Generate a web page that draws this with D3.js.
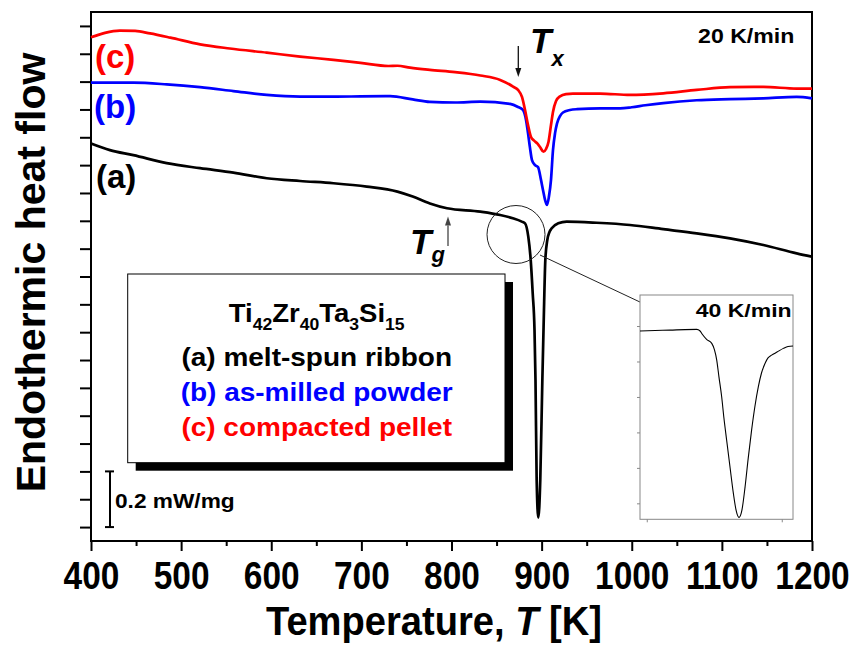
<!DOCTYPE html>
<html>
<head>
<meta charset="utf-8">
<script src="https://cdn.jsdelivr.net/npm/d3@7"></script>
<style>
  body { margin: 0; background: #fff; }
  svg { display: block; font-family: Arial, "Liberation Sans", sans-serif; font-weight: bold; }
</style>
</head>
<body>
<svg id="chart" width="855" height="645"></svg>
<script>
// DSC traces, [temperature K, heat flow mW/mg (offset)], heating at 20 K/min
const ribbon = [
  [400,1.378],[421,1.354],[447,1.336],[484,1.307],[521,1.289],[558,1.273],[595,1.253],
  [632,1.243],[669,1.235],[706,1.223],[740,1.205],[757,1.187],[776,1.162],[795,1.145],
  [832,1.133],[854,1.121],[868,1.109],[878,1.097],[881.6,1.091],[885.2,1.043],[887.9,0.959],
  [890.1,0.840],[892.1,0.708],[893.2,0.528],[894.5,0.169],[896.3,0.034],[898.5,0.169],
  [900.8,0.528],[902.6,0.780],[904.1,0.959],[906.3,1.031],[908.7,1.060],[911.2,1.073],
  [918.5,1.091],[927.8,1.097],[961,1.093],[998,1.085],[1035,1.070],[1072,1.055],
  [1109,1.037],[1146,1.013],[1183,0.983],[1200,0.971]
];
const powder = [
  [400,1.596],[447,1.596],[484,1.590],[521,1.580],[558,1.566],[595,1.552],[632,1.546],
  [669,1.546],[699,1.547],[732,1.548],[757,1.536],[776,1.527],[804,1.525],[832,1.528],
  [865,1.520],[873.8,1.509],[879.3,1.498],[882.7,1.462],[884.9,1.415],[887.1,1.362],
  [889.3,1.318],[892.7,1.300],[896,1.293],[899.3,1.247],[901.5,1.211],[903.8,1.175],
  [906,1.157],[908.2,1.189],[910.4,1.247],[912.6,1.354],[914.9,1.415],[917.1,1.450],
  [920.4,1.476],[923.7,1.489],[931.5,1.498],[939.3,1.501],[965,1.504],[987,1.504],
  [1000,1.508],[1015,1.515],[1035,1.523],[1072,1.533],[1109,1.537],[1146,1.540],
  [1183,1.545],[1200,1.540]
];
const pellet = [
  [400,1.759],[415.5,1.775],[432,1.783],[449,1.782],[465.5,1.773],[488,1.758],[521,1.734],
  [554,1.719],[595,1.704],[632,1.690],[669,1.678],[699,1.667],[730,1.656],[740,1.657],
  [754,1.650],[776,1.642],[804,1.634],[832,1.622],[854,1.606],[868.3,1.582],[873.8,1.570],
  [878.2,1.545],[881.6,1.498],[884.9,1.444],[888.2,1.401],[891.6,1.388],[894.9,1.379],
  [898.2,1.365],[902.1,1.348],[904.9,1.358],[907.6,1.383],[910.4,1.444],[912.6,1.491],
  [916,1.530],[920.4,1.547],[927.1,1.555],[934.8,1.557],[965,1.557],[998,1.552],
  [1035,1.558],[1072,1.570],[1109,1.580],[1146,1.581],[1183,1.575],[1200,1.575]
];
// ribbon crystallization peak recorded at 40 K/min
const ribbon40 = [
  [877,-0.028],[883.7,-0.025],[890.3,-0.023],[897,-0.020],[902.2,-0.019],[903.7,-0.028],
  [904.6,-0.045],[906.6,-0.075],[908.9,-0.098],[910.1,-0.135],[911.1,-0.192],[912.1,-0.288],
  [913.3,-0.399],[914.3,-0.519],[915.5,-0.643],[917,-0.795],[918.5,-0.944],[919.7,-1.038],
  [921,-1.079],[922.3,-1.038],[923.7,-0.907],[925.1,-0.745],[926.6,-0.587],[928.1,-0.451],
  [929.6,-0.342],[931,-0.265],[932.6,-0.210],[933.9,-0.180],[935.5,-0.164],[937.9,-0.147],
  [940.7,-0.126],[942.8,-0.115],[945,-0.113]
];

const xMajorTicks = [400, 500, 600, 700, 800, 900, 1000, 1100, 1200];
const xMinorTicks = [450, 550, 650, 750, 850, 950, 1050, 1150];
const yTicks = d3.range(0, 1.801, 0.1);
const insetXTicks = [880, 940];
const insetYTicks = [0, -0.2, -0.4, -0.6, -0.8, -1.0];

const seriesLabels = ["(a)", "(b)", "(c)"];
const legendTitle = [["Ti", "42"], ["Zr", "40"], ["Ta", "3"], ["Si", "15"]];
const legendLines = ["(a) melt-spun ribbon", "(b) as-milled powder", "(c) compacted pellet"];
const colors = ["#000000", "#0000ff", "#ff0000"];

const svg = d3.select("#chart");
svg.append("rect").attr("width", 855).attr("height", 645).attr("fill", "#fff");

const plot = { left: 91, right: 812, top: 12, bottom: 541 };
const x = d3.scaleLinear().domain([400, 1200]).range([plot.left, plot.right]);
const y = d3.scaleLinear().domain([-0.05, 1.85]).range([plot.bottom, plot.top]);

// axes
const xAxis = svg.append("g").attr("transform", `translate(0,${plot.bottom})`)
  .call(d3.axisBottom(x).tickValues(xMajorTicks).tickSize(10).tickSizeOuter(0).tickFormat(d3.format("d")));
xAxis.select(".domain").remove();
xAxis.selectAll(".tick line").attr("stroke", "#000").attr("stroke-width", 2);
xAxis.selectAll(".tick text")
  .attr("y", 48).attr("dy", 0)
  .attr("font-size", 38).attr("font-family", "Arial, 'Liberation Sans', sans-serif")
  .attr("font-weight", "bold").attr("fill", "#000")
  .attr("transform", "scale(0.88,1)");

const xMinor = svg.append("g").attr("transform", `translate(0,${plot.bottom})`)
  .call(d3.axisBottom(x).tickValues(xMinorTicks).tickSize(5).tickSizeOuter(0).tickFormat(""));
xMinor.select(".domain").remove();
xMinor.selectAll(".tick line").attr("stroke", "#000").attr("stroke-width", 2);

const yAxis = svg.append("g").attr("transform", `translate(${plot.left},0)`)
  .call(d3.axisLeft(y).tickValues(yTicks).tickSize(11).tickSizeOuter(0).tickFormat(""));
yAxis.select(".domain").remove();
yAxis.selectAll(".tick line").attr("stroke", "#000").attr("stroke-width", 2);

// frame
svg.append("rect")
  .attr("x", plot.left).attr("y", plot.top)
  .attr("width", plot.right - plot.left).attr("height", plot.bottom - plot.top)
  .attr("fill", "none").attr("stroke", "#000").attr("stroke-width", 2);

// curves
const line = d3.line().x(d => x(d[0])).y(d => y(d[1])).curve(d3.curveMonotoneX);
[ribbon, powder, pellet].forEach((s, i) => {
  svg.append("path").datum(s)
    .attr("d", line).attr("fill", "none")
    .attr("stroke", colors[i]).attr("stroke-width", 2.7)
    .attr("stroke-linejoin", "round");
});

// series tags
const tagPos = [[96, 188.3], [94, 118.3], [95, 68.3]];
seriesLabels.forEach((t, i) => {
  svg.append("text").attr("x", tagPos[i][0]).attr("y", tagPos[i][1])
    .attr("font-size", 33).attr("fill", colors[i]).text(t);
});

// arrow helper
function arrow(x1, y1, x2, y2, color, width, headLen, headW) {
  const ang = Math.atan2(y2 - y1, x2 - x1);
  const bx = x2 - headLen * Math.cos(ang), by = y2 - headLen * Math.sin(ang);
  svg.append("line").attr("x1", x1).attr("y1", y1).attr("x2", bx).attr("y2", by)
    .attr("stroke", color).attr("stroke-width", width);
  const px = -Math.sin(ang) * headW / 2, py = Math.cos(ang) * headW / 2;
  svg.append("path")
    .attr("d", `M${x2},${y2}L${bx + px},${by + py}L${bx - px},${by - py}Z`)
    .attr("fill", color);
}

// Tx annotation
arrow(518.3, 46, 518.3, 77, "#111", 1.3, 9, 6);
const tx = svg.append("text").attr("x", 530).attr("y", 53.3).attr("font-size", 35).attr("font-style", "italic");
tx.append("tspan").text("T");
tx.append("tspan").attr("font-size", 22).attr("dy", 13).text("x");

// Tg annotation
arrow(448, 246, 448, 216.5, "#444", 1.3, 9, 6);
const tg = svg.append("text").attr("x", 410).attr("y", 254).attr("font-size", 35).attr("font-style", "italic");
tg.append("tspan").text("T");
tg.append("tspan").attr("font-size", 22).attr("dy", 8).text("g");

// heating rate
svg.append("text").attr("text-anchor", "end")
  .attr("transform", "translate(794.3,43.3) scale(1.1,1)")
  .attr("font-size", 21).text("20 K/min");

// zoom circle and connector
svg.append("circle").attr("cx", 516).attr("cy", 234.5).attr("r", 29)
  .attr("fill", "none").attr("stroke", "#222").attr("stroke-width", 1);
arrow(540, 255, 676.7, 319.3, "#222", 1, 11, 7);

// inset
const inset = { left: 640, right: 793, top: 295, bottom: 519.3 };
const ix = d3.scaleLinear().domain([877, 945]).range([inset.left, inset.right]);
const iy = d3.scaleLinear().domain([0.175, -1.09]).range([inset.top, inset.bottom]);
svg.append("rect")
  .attr("x", inset.left).attr("y", inset.top)
  .attr("width", inset.right - inset.left).attr("height", inset.bottom - inset.top)
  .attr("fill", "#fff").attr("stroke", "#888").attr("stroke-width", 1);
const iyAxis = svg.append("g").attr("transform", `translate(${inset.left},0)`)
  .call(d3.axisLeft(iy).tickValues(insetYTicks).tickSize(3).tickSizeOuter(0).tickFormat(""));
iyAxis.select(".domain").remove();
iyAxis.selectAll(".tick line").attr("stroke", "#888");
const ixAxis = svg.append("g").attr("transform", `translate(0,${inset.bottom})`)
  .call(d3.axisBottom(ix).tickValues(insetXTicks).tickSize(3).tickSizeOuter(0).tickFormat(""));
ixAxis.select(".domain").remove();
ixAxis.selectAll(".tick line").attr("stroke", "#888");
const iline = d3.line().x(d => ix(d[0])).y(d => iy(d[1])).curve(d3.curveMonotoneX);
svg.append("path").datum(ribbon40).attr("d", iline)
  .attr("fill", "none").attr("stroke", "#000").attr("stroke-width", 1.1);
svg.append("text").attr("text-anchor", "end")
  .attr("transform", "translate(791.7,316.7) scale(1.28,1)")
  .attr("font-size", 18).text("40 K/min");

// legend box with shadow
const lg = { x: 127.7, y: 274, w: 377.3, h: 188.7, off: 8 };
svg.append("rect").attr("x", lg.x + lg.off).attr("y", lg.y + lg.off)
  .attr("width", lg.w).attr("height", lg.h).attr("fill", "#000");
svg.append("rect").attr("x", lg.x).attr("y", lg.y)
  .attr("width", lg.w).attr("height", lg.h)
  .attr("fill", "#fff").attr("stroke", "#000").attr("stroke-width", 1);

const lcx = 316.7;
const title = svg.append("text").attr("text-anchor", "middle")
  .attr("transform", `translate(${lcx},321.7) scale(1.1,1)`).attr("font-size", 25);
legendTitle.forEach(([el, n], i) => {
  title.append("tspan").attr("dy", i === 0 ? 0 : -8).text(el);
  title.append("tspan").attr("font-size", 16).attr("dy", 8).text(n);
});
const lineBase = [366, 401, 436];
legendLines.forEach((t, i) => {
  svg.append("text").attr("text-anchor", "middle")
    .attr("transform", `translate(${lcx},${lineBase[i]}) scale(1.12,1)`)
    .attr("font-size", 25).attr("fill", colors[i]).text(t);
});

// scale bar: 0.2 mW/mg
const sbx = 110, sbTop = y(0.2), sbBot = y(0);
svg.append("line").attr("x1", sbx).attr("x2", sbx).attr("y1", sbTop).attr("y2", sbBot)
  .attr("stroke", "#000").attr("stroke-width", 2);
[sbTop, sbBot].forEach(v => svg.append("line")
  .attr("x1", sbx - 5).attr("x2", sbx + 4).attr("y1", v).attr("y2", v)
  .attr("stroke", "#000").attr("stroke-width", 2));
svg.append("text").attr("transform", "translate(115,508.3) scale(1.08,1)")
  .attr("font-size", 21).text("0.2 mW/mg");

// axis titles
const xt = svg.append("text").attr("text-anchor", "middle")
  .attr("transform", "translate(434,635) scale(0.93,1)").attr("font-size", 41);
xt.append("tspan").text("Temperature, ");
xt.append("tspan").attr("font-style", "italic").text("T");
xt.append("tspan").text(" [K]");

svg.append("text").attr("text-anchor", "middle")
  .attr("transform", "translate(45,272.5) rotate(-90)")
  .attr("font-size", 41).text("Endothermic heat flow");
</script>
</body>
</html>
